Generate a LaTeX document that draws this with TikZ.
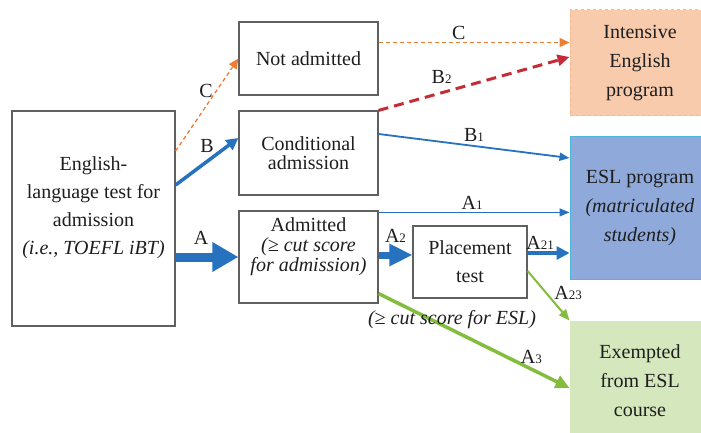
\documentclass[tikz,border=0pt]{standalone}
\usepackage{fontspec}
\setmainfont{Liberation Serif}
\usetikzlibrary{arrows.meta, positioning, calc}
\definecolor{azulfuerte}{RGB}{38,114,190}
\definecolor{naranjita}{RGB}{237,125,49}
\definecolor{rojito}{RGB}{196,45,55}
\definecolor{verdecito}{RGB}{132,188,62}
\definecolor{durazno}{RGB}{248,203,173}
\definecolor{celeste}{RGB}{143,170,218}
\definecolor{bordeceleste}{RGB}{80,180,220}
\definecolor{verdeclaro}{RGB}{213,231,188}
\definecolor{gristexto}{RGB}{30,30,30}
\newcommand{\indice}[1]{{\fontsize{13}{13}\selectfont #1}}
\tikzset{>=stealth,
	caja/.style={draw=gray!75!black, line width=1.2pt, align=center, text=gristexto, font=\fontsize{20}{28}\selectfont},
	texto/.style={align=center, text=gristexto, font=\fontsize{20}{28}\selectfont},
	destino/.style={line width=1pt, minimum width=140, align=center, text=gristexto, font=\fontsize{20}{29}\selectfont},
	etiqueta/.style={text=gristexto, font=\fontsize{20}{20}\selectfont, inner sep=1pt}}

\begin{document}
\begin{tikzpicture}[x=1pt, y=-1pt]
			\clip (0,0) rectangle (701,433);

			% cajas
			\node [caja, minimum width=163, minimum height=215] (eng) at (93.5,218.5) {};
			\node [texto] (engtxt) at ([yshift=11]eng.center) {English-\\language test for\\admission\\\textit{(i.e., TOEFL iBT)}};
			\node [caja, minimum width=139, minimum height=73] (noadm) at (308.5,58.5) {Not admitted};
			\node [caja, minimum width=139, minimum height=84, font=\fontsize{20}{19}\selectfont] (cond) at (308.5,153) {Conditional\\admission};
			\node [caja, minimum width=139, minimum height=92] (adm) at (308.5,257) {};
			\node [texto, font=\fontsize{20}{20}\selectfont] (admtxt) at ([yshift=10]adm.center) {Admitted\\\textit{(≥ cut score}\\\textit{for admission)}};
			\node [caja, minimum width=114, minimum height=72] (place) at (470,262) {Placement\\test};

			\node [destino, fill=durazno, draw=naranjita!55, dashed, minimum height=106] (intens) at (640,63) {Intensive\\English\\program};
			\node [destino, fill=celeste, draw=bordeceleste, minimum height=142] (esl) at (640,208) {ESL program\\\textit{(matriculated}\\\textit{students)}};
			\node [destino, fill=verdeclaro, draw=verdeclaro, minimum height=120] (exe) at (640,381) {Exempted\\from ESL\\course};

			% puntos de salida
			\coordinate (sal_c) at ([yshift=16]noadm.east);
			\coordinate (sal_a1) at ([yshift=-2]adm.north east);
			\coordinate (sal_a2) at ([yshift=2]adm.east);
			\coordinate (sal_a21) at ([yshift=9]place.east);

			% flechas
			\draw [naranjita, line width=1.3pt, dash pattern=on 4pt off 3pt, -{Triangle[length=10pt,width=9pt]}] ([yshift=67.5]eng.east) -- node[etiqueta, pos=0.65, left=2pt] {C} (noadm.west);
			\draw [azulfuerte, line width=3.5pt, -{Triangle[length=12pt,width=12pt]}] ([yshift=33.5]eng.east) -- node[etiqueta, midway, above=6pt] {B} ([yshift=15]cond.west);
			\draw [azulfuerte, line width=9pt, -{Triangle[length=26pt,width=28pt]}] (eng.east |- adm.west) -- node[etiqueta, midway, above=7pt, xshift=-6pt] {A} (adm.west);

			\draw [naranjita, line width=1.3pt, dash pattern=on 4pt off 3pt, -{Triangle[length=10pt,width=9pt]}] (sal_c) -- node[etiqueta, pos=0.42, above=1pt] {C} (intens.west |- sal_c);
			\draw [rojito, line width=3pt, dash pattern=on 10pt off 6pt, -{Triangle[length=12pt,width=11pt]}] (cond.north east) -- node[etiqueta, pos=0.33, above=7pt] {B\indice{2}} ([yshift=6]intens.west);
			\draw [azulfuerte, line width=1.8pt, -{Triangle[length=10pt,width=8pt]}] ([yshift=19]cond.east) -- node[etiqueta, midway, above=3pt] {B\indice{1}} ([yshift=50]esl.west);

			\draw [azulfuerte, line width=1.3pt, -{Triangle[length=10pt,width=8pt]}] (sal_a1) -- node[etiqueta, pos=0.49, above=1pt] {A\indice{1}} (esl.west |- sal_a1);
			\draw [azulfuerte, line width=7pt, -{Triangle[length=23pt,width=21pt]}] (sal_a2) -- node[etiqueta, midway, above=8pt] {A\indice{2}} (place.west |- sal_a2);
			\draw [azulfuerte, line width=4pt, -{Triangle[length=13pt,width=13pt]}] (sal_a21) -- node[etiqueta, pos=0.3, above=1pt] {A\indice{21}} (esl.west |- sal_a21);
			\draw [verdecito, line width=2pt, -{Triangle[length=11pt,width=9pt]}] ([yshift=-9]place.east) -- node[etiqueta, pos=0.45, right=6pt] {A\indice{23}} (exe.north west);
			\draw [verdecito, line width=3.5pt, -{Triangle[length=14pt,width=13pt]}] ([yshift=10]adm.south east) -- node[etiqueta, pos=0.8, above=3pt] {A\indice{3}} ([yshift=-7]exe.west);

			\node [texto, font=\fontsize{20}{20}\selectfont\itshape] (corteesl) at (452,320) {(≥ cut score for ESL)};
		\end{tikzpicture}
\end{document}
